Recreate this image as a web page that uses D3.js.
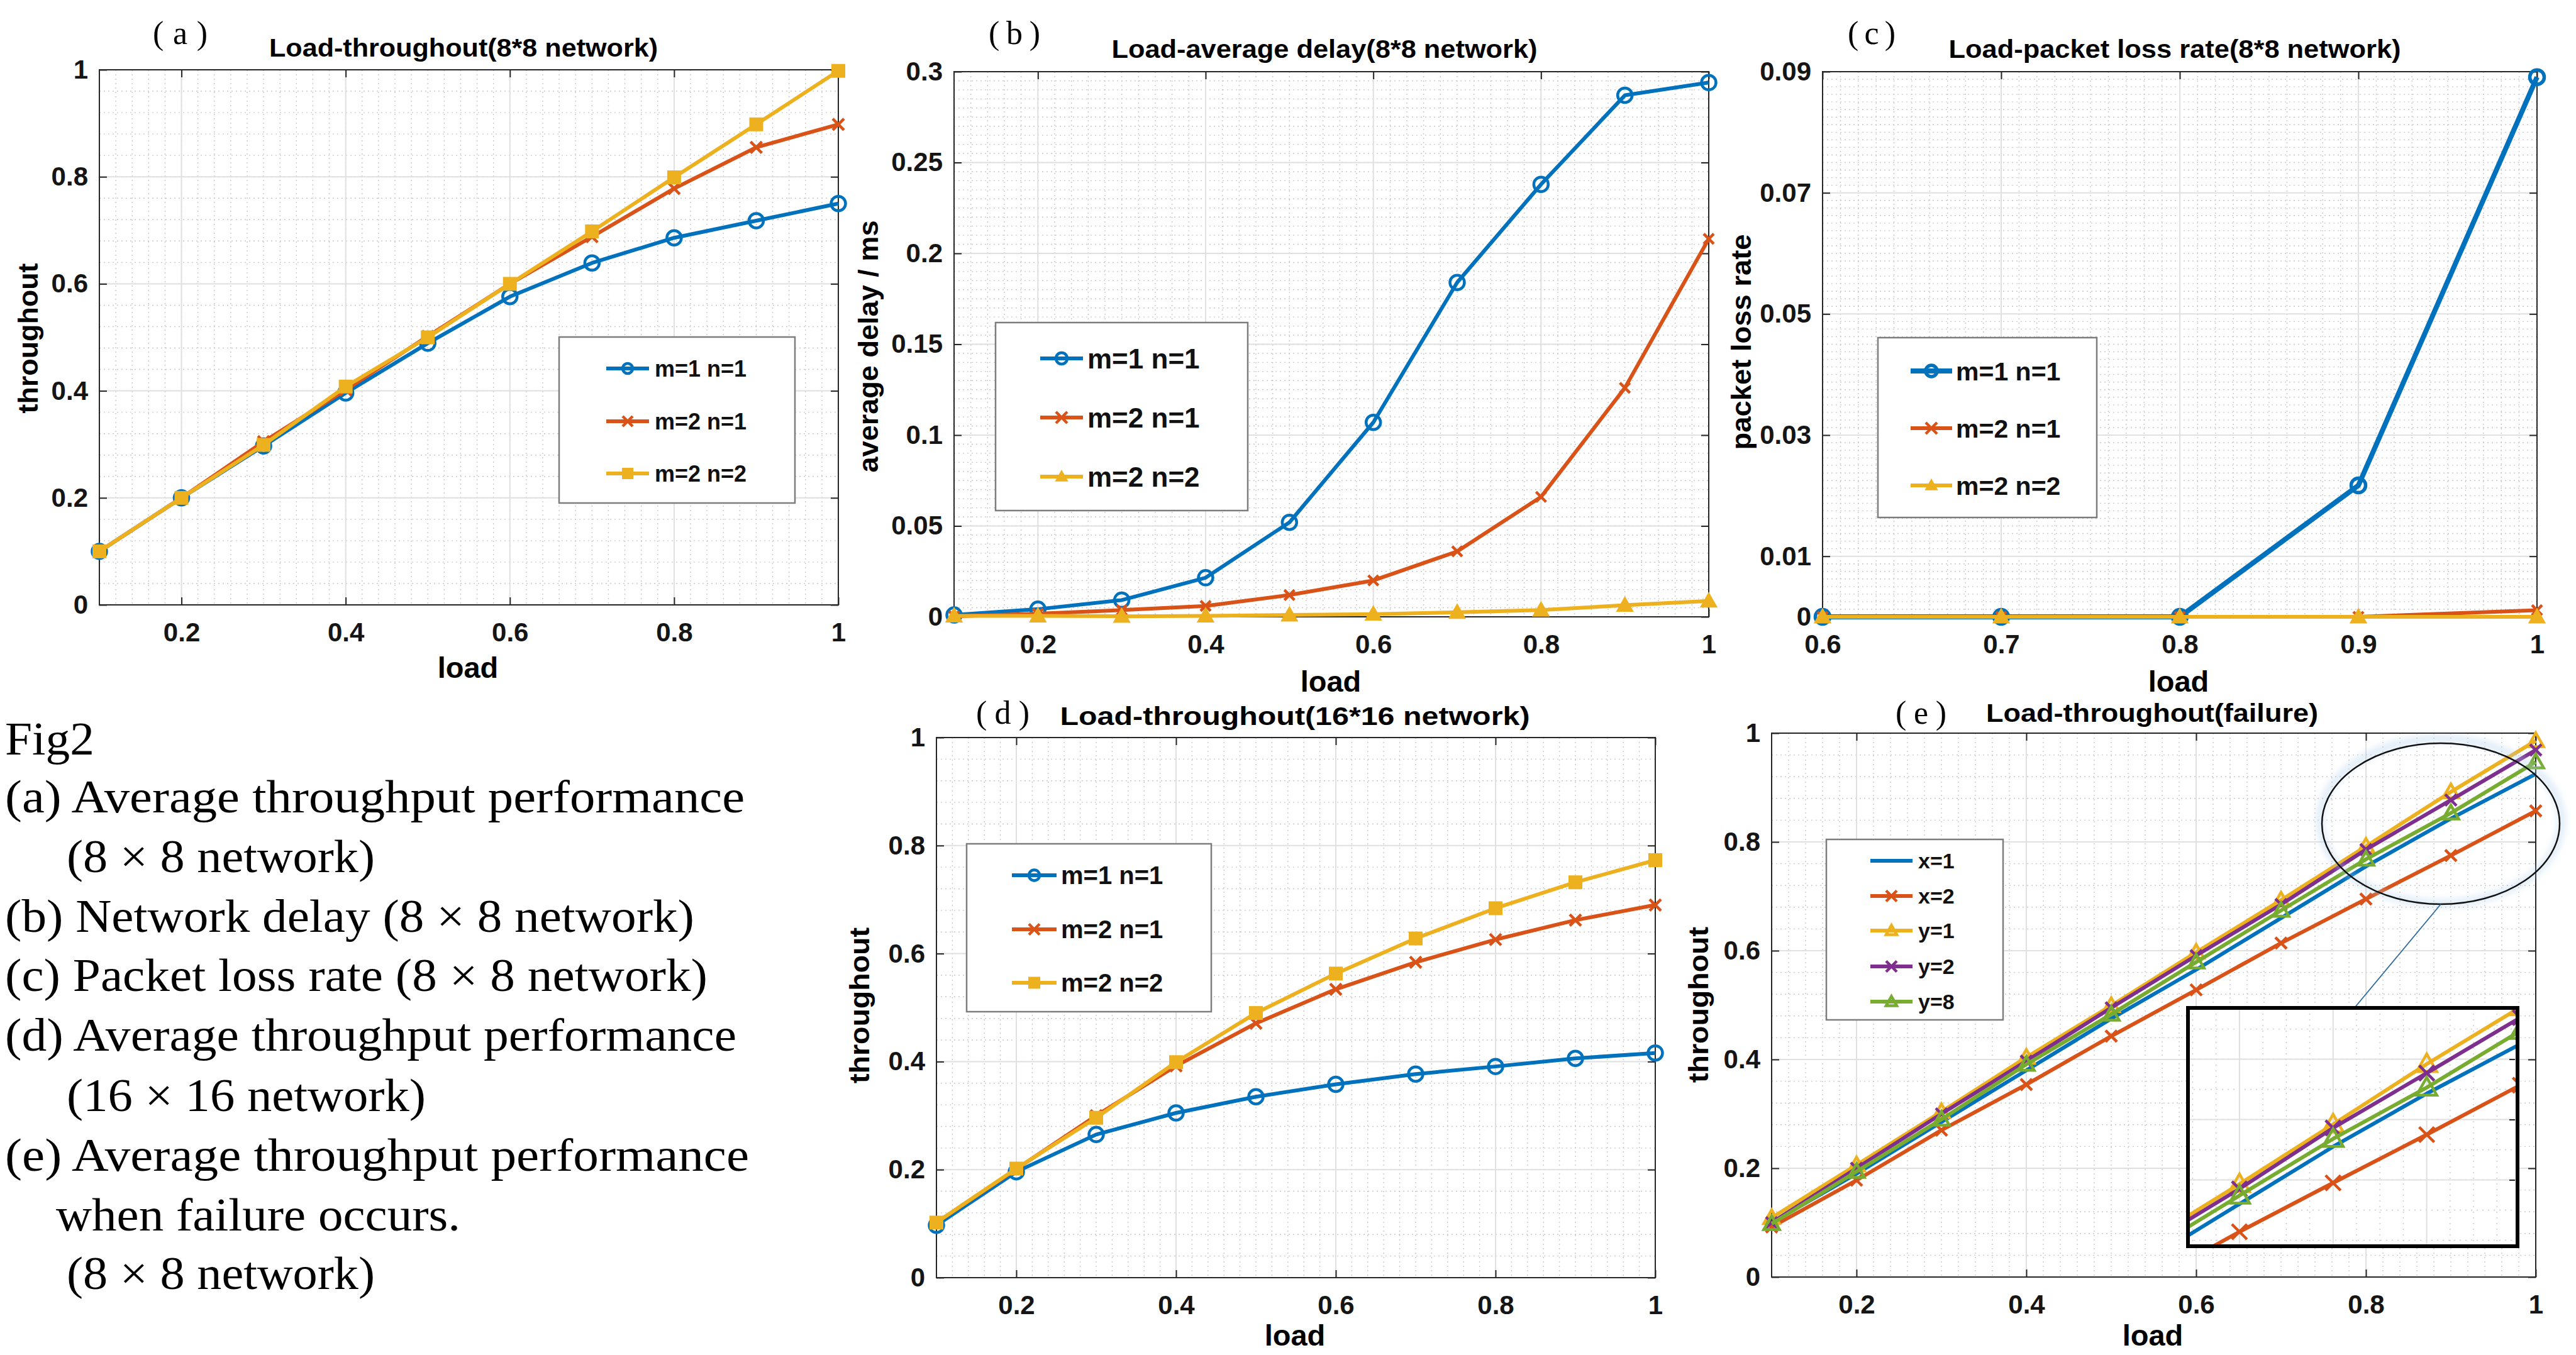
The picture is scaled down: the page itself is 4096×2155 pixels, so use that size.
<!DOCTYPE html>
<html>
<head>
<meta charset="utf-8">
<script src="https://cdn.jsdelivr.net/npm/d3@7"></script>
<style>
  html, body { margin: 0; padding: 0; background: #fff; }
  svg { display: block; }
</style>
</head>
<body>
<svg id="fig" width="4096" height="2155"></svg>
<script>
// ---- data ----
const load = [0.1, 0.2, 0.3, 0.4, 0.5, 0.6, 0.7, 0.8, 0.9, 1.0];
const lossLoad = [0.6, 0.7, 0.8, 0.9, 1.0];

const thr8_m1n1 = [0.100, 0.200, 0.297, 0.396, 0.489, 0.576, 0.639, 0.686, 0.718, 0.750];
const thr8_m2n1 = [0.100, 0.200, 0.305, 0.402, 0.502, 0.600, 0.688, 0.778, 0.855, 0.898];
const thr8_m2n2 = [0.100, 0.200, 0.299, 0.408, 0.500, 0.600, 0.698, 0.799, 0.898, 0.998];

const delay_m1n1 = [0.001, 0.0042, 0.0092, 0.0215, 0.052, 0.107, 0.184, 0.238, 0.287, 0.294];
const delay_m2n1 = [0.0003, 0.0017, 0.0037, 0.006, 0.012, 0.020, 0.036, 0.066, 0.126, 0.208];
const delay_m2n2 = [0.0005, 0.0005, 0.0003, 0.0005, 0.001, 0.0015, 0.0025, 0.0037, 0.0064, 0.0087];

const loss_m1n1 = [0, 0, 0, 0.0217, 0.0891];
const loss_m2n1 = [0, 0, 0, 0, 0.0011];
const loss_m2n2 = [0, 0, 0, 0, 0];

const thr16_m1n1 = [0.097, 0.196, 0.265, 0.305, 0.335, 0.358, 0.377, 0.391, 0.406, 0.416];
const thr16_m2n1 = [0.102, 0.201, 0.300, 0.392, 0.471, 0.534, 0.584, 0.626, 0.662, 0.690];
const thr16_m2n2 = [0.102, 0.202, 0.296, 0.399, 0.490, 0.563, 0.628, 0.684, 0.732, 0.773];

const fail_x1 = [0.100, 0.190, 0.285, 0.380, 0.475, 0.565, 0.660, 0.755, 0.843, 0.925];
const fail_x2 = [0.092, 0.178, 0.270, 0.354, 0.443, 0.528, 0.614, 0.695, 0.775, 0.857];
const fail_y1 = [0.109, 0.206, 0.304, 0.404, 0.499, 0.597, 0.693, 0.792, 0.892, 0.986];
const fail_y2 = [0.100, 0.200, 0.300, 0.397, 0.495, 0.591, 0.685, 0.786, 0.877, 0.969];
const fail_y8 = [0.098, 0.194, 0.290, 0.391, 0.483, 0.579, 0.674, 0.768, 0.853, 0.947];

const loadTicks = [0.2, 0.4, 0.6, 0.8, 1];
const thrTicks = [0, 0.2, 0.4, 0.6, 0.8, 1];
const delayTicks = [0, 0.05, 0.1, 0.15, 0.2, 0.25, 0.3];
const lossLoadTicks = [0.6, 0.7, 0.8, 0.9, 1];
const lossTicks = [0, 0.01, 0.03, 0.05, 0.07, 0.09];

const mnLabels = ["m=1 n=1", "m=2 n=1", "m=2 n=2"];
const failLabels = ["x=1", "x=2", "y=1", "y=2", "y=8"];

// zoomed view of panel (e)
const insetX = [0.645, 0.997];
const insetY = [0.59, 0.985];
const insetXTicks = [0.7, 0.8, 0.9];
const insetYTicks = [0.7, 0.8, 0.9];

const captionLines = [
  "Fig2",
  "(a) Average throughput  performance",
  "(8 × 8 network)",
  "(b) Network delay (8 × 8 network)",
  "(c) Packet loss rate (8 × 8 network)",
  "(d) Average throughput performance",
  "(16 × 16 network)",
  "(e) Average throughput  performance",
  "when failure occurs.",
  "(8 × 8 network)"
];

// ---- drawing ----
const BLUE = "#0072BD", RED = "#D95319", YEL = "#EDB120", PUR = "#7E2F8E", GRN = "#77AC30";
const FONT = "'Liberation Sans', Arial, Helvetica, sans-serif";
const SERIF = "'Liberation Serif', 'Times New Roman', serif";
const LW = 6;

const svg = d3.select("#fig");
svg.append("rect").attr("width", 4096).attr("height", 2155).attr("fill", "#fff");

const fmt = d => String(+d.toFixed(4));
const steps = (dom, st) => d3.range(Math.round((dom[1] - dom[0]) / st) + 1).map(i => dom[0] + i * st);

function marker(g, type, cx, cy, color, s, sw) {
  const h = s / 2;
  if (type === "o") {
    g.append("circle").attr("cx", cx).attr("cy", cy).attr("r", h)
      .attr("fill", "none").attr("stroke", color).attr("stroke-width", sw);
  } else if (type === "x") {
    g.append("path").attr("d", `M${cx - h},${cy - h}L${cx + h},${cy + h}M${cx - h},${cy + h}L${cx + h},${cy - h}`)
      .attr("fill", "none").attr("stroke", color).attr("stroke-width", sw);
  } else if (type === "s") {
    g.append("rect").attr("x", cx - h).attr("y", cy - h).attr("width", s).attr("height", s)
      .attr("fill", color).attr("stroke", color).attr("stroke-width", 2);
  } else if (type === "^" || type === "^f") {
    g.append("path").attr("d", `M${cx},${cy - h}L${cx + h},${cy + h * 0.75}L${cx - h},${cy + h * 0.75}Z`)
      .attr("fill", type === "^f" ? color : "none").attr("stroke", color)
      .attr("stroke-width", sw).attr("stroke-linejoin", "miter");
  }
}

function styleAxis(sel) {
  sel.select(".domain").remove();
  sel.selectAll(".tick line").attr("stroke", "#262626").attr("stroke-width", 2);
  sel.selectAll(".tick text").attr("font-family", FONT).attr("font-weight", "bold")
    .attr("font-size", 42).attr("fill", "#151515");
}

function drawPanel(p) {
  const g = svg.append("g");
  const x = d3.scaleLinear().domain(p.xDom).range([p.l, p.r]);
  const y = d3.scaleLinear().domain(p.yDom).range([p.b, p.t]);

  // minor grid
  g.append("g").selectAll("line").data(steps(p.xDom, p.xMinor)).join("line")
    .attr("x1", d => x(d)).attr("x2", d => x(d)).attr("y1", p.t).attr("y2", p.b)
    .attr("stroke", "#c9c9c9").attr("stroke-width", 1.4).attr("stroke-dasharray", "2,5");
  g.append("g").selectAll("line").data(steps(p.yDom, p.yMinor)).join("line")
    .attr("x1", p.l).attr("x2", p.r).attr("y1", d => y(d)).attr("y2", d => y(d))
    .attr("stroke", "#c9c9c9").attr("stroke-width", 1.4).attr("stroke-dasharray", "2,5");
  // major grid
  g.append("g").selectAll("line").data(p.xTicks).join("line")
    .attr("x1", d => x(d)).attr("x2", d => x(d)).attr("y1", p.t).attr("y2", p.b)
    .attr("stroke", "#e0e0e0").attr("stroke-width", 2);
  g.append("g").selectAll("line").data(p.yTicks).join("line")
    .attr("x1", p.l).attr("x2", p.r).attr("y1", d => y(d)).attr("y2", d => y(d))
    .attr("stroke", "#e0e0e0").attr("stroke-width", 2);

  // axes, ticks on all four sides pointing in
  g.append("g").attr("transform", `translate(0,${p.b})`)
    .call(d3.axisBottom(x).tickValues(p.xTicks).tickFormat(fmt).tickSizeInner(-12).tickSizeOuter(0).tickPadding(28))
    .call(styleAxis);
  g.append("g").attr("transform", `translate(${p.l},0)`)
    .call(d3.axisLeft(y).tickValues(p.yTicks).tickFormat(fmt).tickSizeInner(-12).tickSizeOuter(0).tickPadding(18))
    .call(styleAxis);
  g.append("g").attr("transform", `translate(0,${p.t})`)
    .call(d3.axisTop(x).tickValues(p.xTicks).tickFormat("").tickSizeInner(-12).tickSizeOuter(0))
    .call(styleAxis);
  g.append("g").attr("transform", `translate(${p.r},0)`)
    .call(d3.axisRight(y).tickValues(p.yTicks).tickFormat("").tickSizeInner(-12).tickSizeOuter(0))
    .call(styleAxis);
  g.append("rect").attr("x", p.l).attr("y", p.t).attr("width", p.r - p.l).attr("height", p.b - p.t)
    .attr("fill", "none").attr("stroke", "#262626").attr("stroke-width", 2);

  // series
  p.series.forEach(s => {
    const pts = p.xs.map((v, i) => [x(v), y(s.ys[i])]);
    g.append("path").attr("d", d3.line()(pts)).attr("fill", "none").attr("stroke", s.c)
      .attr("stroke-width", s.w || LW).attr("stroke-linejoin", "round");
    if (s.m) pts.forEach(pt => marker(g, s.m, pt[0], pt[1], s.c, s.ms || 23, s.mw || 4.5));
  });

  // texts
  g.append("text").attr("x", p.title.cx).attr("y", p.title.y).attr("text-anchor", "middle")
    .attr("font-family", FONT).attr("font-weight", "bold").attr("font-size", 40)
    .attr("textLength", p.title.len).attr("lengthAdjust", "spacingAndGlyphs").text(p.title.text);
  g.append("text").attr("x", p.tag.x).attr("y", p.tag.y).attr("font-family", SERIF)
    .attr("font-size", 52).attr("textLength", p.tag.len).attr("lengthAdjust", "spacing").text(p.tag.text);
  g.append("text").attr("x", p.xlab.cx).attr("y", p.xlab.y).attr("text-anchor", "middle")
    .attr("font-family", FONT).attr("font-weight", "bold").attr("font-size", 47).text("load");
  g.append("text").attr("transform", `translate(${p.ylab.cx},${p.ylab.cy}) rotate(-90)`)
    .attr("text-anchor", "middle").attr("dy", "0.36em")
    .attr("font-family", FONT).attr("font-weight", "bold").attr("font-size", 45)
    .attr("textLength", p.ylab.len).attr("lengthAdjust", "spacingAndGlyphs").text(p.ylab.text);

  if (p.extra) p.extra(g, x, y);

  // legend
  const lg = p.legend;
  g.append("rect").attr("x", lg.x0).attr("y", lg.y0).attr("width", lg.x1 - lg.x0).attr("height", lg.y1 - lg.y0)
    .attr("fill", "#fff").attr("stroke", "#7d7d7d").attr("stroke-width", 2.5);
  p.series.forEach((s, i) => {
    const cy = lg.rows[i];
    g.append("line").attr("x1", lg.lx0).attr("x2", lg.lx1).attr("y1", cy).attr("y2", cy)
      .attr("stroke", s.c).attr("stroke-width", s.w || LW);
    if (s.m) marker(g, s.m, (lg.lx0 + lg.lx1) / 2, cy, s.c, lg.ms || 18, s.mw || 4.5);
    g.append("text").attr("x", lg.tx).attr("y", cy).attr("dy", "0.36em")
      .attr("font-family", FONT).attr("font-weight", "bold").attr("font-size", lg.size)
      .attr("fill", "#111").text(p.labels[i]);
  });
}

// (a)
drawPanel({
  l: 158, r: 1333, t: 111, b: 962, xDom: [0.1, 1], yDom: [0, 1],
  xTicks: loadTicks, yTicks: thrTicks, xMinor: 0.02, yMinor: 0.04, xs: load,
  series: [
    { ys: thr8_m1n1, c: BLUE, m: "o" },
    { ys: thr8_m2n1, c: RED, m: "x", ms: 18 },
    { ys: thr8_m2n2, c: YEL, m: "s", ms: 20 }
  ],
  labels: mnLabels,
  title: { text: "Load-throughout(8*8 network)", cx: 737, y: 90, len: 618 },
  tag: { text: "(a)", x: 243, y: 70, len: 87 },
  xlab: { cx: 744, y: 1078 },
  ylab: { text: "throughout", cx: 44, cy: 538, len: 239 },
  legend: { x0: 889, x1: 1264, y0: 536, y1: 800, rows: [586, 670, 753], lx0: 964, lx1: 1032, tx: 1041, size: 36, ms: 16 }
});

// (b)
drawPanel({
  l: 1517, r: 2717, t: 114, b: 981, xDom: [0.1, 1], yDom: [0, 0.3],
  xTicks: loadTicks, yTicks: delayTicks, xMinor: 0.02, yMinor: 0.005, xs: load,
  series: [
    { ys: delay_m1n1, c: BLUE, m: "o" },
    { ys: delay_m2n1, c: RED, m: "x", ms: 16 },
    { ys: delay_m2n2, c: YEL, m: "^f", ms: 25, mw: 2 }
  ],
  labels: mnLabels,
  title: { text: "Load-average delay(8*8 network)", cx: 2106, y: 92, len: 677 },
  tag: { text: "(b)", x: 1572, y: 70, len: 82 },
  xlab: { cx: 2116, y: 1100 },
  ylab: { text: "average delay / ms", cx: 1380, cy: 551, len: 401 },
  legend: { x0: 1583, x1: 1984, y0: 513, y1: 812, rows: [570, 664, 758], lx0: 1654, lx1: 1722, tx: 1729, size: 44, ms: 18 }
});

// (c)
drawPanel({
  l: 2898, r: 4034, t: 114, b: 981, xDom: [0.6, 1], yDom: [0, 0.09],
  xTicks: lossLoadTicks, yTicks: lossTicks, xMinor: 0.01, yMinor: 0.00125, xs: lossLoad,
  series: [
    { ys: loss_m1n1, c: BLUE, m: "o", w: 8, mw: 5.5 },
    { ys: loss_m2n1, c: RED, m: "x", ms: 16 },
    { ys: loss_m2n2, c: YEL, m: "^f", ms: 25, mw: 2 }
  ],
  labels: mnLabels,
  title: { text: "Load-packet loss rate(8*8 network)", cx: 3458, y: 92, len: 719 },
  tag: { text: "(c)", x: 2938, y: 70, len: 76 },
  xlab: { cx: 3464, y: 1100 },
  ylab: { text: "packet loss rate", cx: 2768, cy: 544, len: 343 },
  legend: { x0: 2986, x1: 3334, y0: 537, y1: 823, rows: [590, 681, 772], lx0: 3038, lx1: 3104, tx: 3110, size: 41, ms: 18 }
});

// (d)
drawPanel({
  l: 1489, r: 2632, t: 1173, b: 2032, xDom: [0.1, 1], yDom: [0, 1],
  xTicks: loadTicks, yTicks: thrTicks, xMinor: 0.02, yMinor: 0.04, xs: load,
  series: [
    { ys: thr16_m1n1, c: BLUE, m: "o" },
    { ys: thr16_m2n1, c: RED, m: "x", ms: 18 },
    { ys: thr16_m2n2, c: YEL, m: "s", ms: 20 }
  ],
  labels: mnLabels,
  title: { text: "Load-throughout(16*16 network)", cx: 2059, y: 1153, len: 747 },
  tag: { text: "(d)", x: 1552, y: 1151, len: 85 },
  xlab: { cx: 2059, y: 2140 },
  ylab: { text: "throughout", cx: 1366, cy: 1599, len: 248 },
  legend: { x0: 1537, x1: 1926, y0: 1342, y1: 1609, rows: [1392, 1478, 1563], lx0: 1609, lx1: 1680, tx: 1687, size: 40, ms: 17 }
});

// (e) with the zoomed inset
const failSeries = [
  { ys: fail_x1, c: BLUE, m: null },
  { ys: fail_x2, c: RED, m: "x", ms: 18 },
  { ys: fail_y1, c: YEL, m: "^", ms: 25 },
  { ys: fail_y2, c: PUR, m: "x", ms: 18 },
  { ys: fail_y8, c: GRN, m: "^", ms: 25 }
];

function insetExtra(g) {
  const defs = svg.append("defs");
  defs.append("filter").attr("id", "glow").attr("x", "-20%").attr("y", "-20%").attr("width", "140%").attr("height", "140%")
    .append("feGaussianBlur").attr("stdDeviation", 6);
  defs.append("clipPath").attr("id", "insetClip").append("rect")
    .attr("x", 3479).attr("y", 1603).attr("width", 524).attr("height", 379);

  // magnifier ellipse and leader line
  g.append("ellipse").attr("cx", 3881).attr("cy", 1306).attr("rx", 192).attr("ry", 131)
    .attr("fill", "none").attr("stroke", "#a9cbea").attr("stroke-width", 10).attr("opacity", 0.45).attr("filter", "url(#glow)");
  g.append("ellipse").attr("cx", 3881).attr("cy", 1310).attr("rx", 189).attr("ry", 128)
    .attr("fill", "none").attr("stroke", "#111").attr("stroke-width", 2.5);
  g.append("line").attr("x1", 3881).attr("y1", 1438).attr("x2", 3742).attr("y2", 1605)
    .attr("stroke", "#2f6a9e").attr("stroke-width", 1.8);

  const ix0 = 3479, ix1 = 4003, iy0 = 1603, iy1 = 1982;
  const xi = d3.scaleLinear().domain(insetX).range([ix0, ix1]);
  const yi = d3.scaleLinear().domain(insetY).range([iy1, iy0]);
  const ig = g.append("g");
  ig.append("rect").attr("x", ix0).attr("y", iy0).attr("width", ix1 - ix0).attr("height", iy1 - iy0).attr("fill", "#fff");
  const c = ig.append("g").attr("clip-path", "url(#insetClip)");
  c.append("g").selectAll("line").data(steps([0.65, 0.975], 0.025)).join("line")
    .attr("x1", d => xi(d)).attr("x2", d => xi(d)).attr("y1", iy0).attr("y2", iy1)
    .attr("stroke", "#c9c9c9").attr("stroke-width", 1.4).attr("stroke-dasharray", "2,7");
  c.append("g").selectAll("line").data(steps([0.6, 0.95], 0.05)).join("line")
    .attr("x1", ix0).attr("x2", ix1).attr("y1", d => yi(d)).attr("y2", d => yi(d))
    .attr("stroke", "#c9c9c9").attr("stroke-width", 1.4).attr("stroke-dasharray", "2,7");
  c.append("g").selectAll("line").data(insetXTicks).join("line")
    .attr("x1", d => xi(d)).attr("x2", d => xi(d)).attr("y1", iy0).attr("y2", iy1)
    .attr("stroke", "#e0e0e0").attr("stroke-width", 2);
  c.append("g").selectAll("line").data(insetYTicks).join("line")
    .attr("x1", ix0).attr("x2", ix1).attr("y1", d => yi(d)).attr("y2", d => yi(d))
    .attr("stroke", "#e0e0e0").attr("stroke-width", 2);
  c.append("g").attr("transform", `translate(${ix1 - 4},0)`)
    .call(d3.axisRight(yi).tickValues(insetYTicks).tickFormat("").tickSizeInner(-9).tickSizeOuter(0))
    .call(styleAxis);
  failSeries.forEach(s => {
    const pts = load.map((v, i) => [xi(v), yi(s.ys[i])]);
    c.append("path").attr("d", d3.line()(pts)).attr("fill", "none").attr("stroke", s.c)
      .attr("stroke-width", 6).attr("stroke-linejoin", "round");
    if (s.m) pts.forEach(pt => marker(c, s.m, pt[0], pt[1], s.c, s.m === "^" ? 32 : 24, 4.5));
  });
  ig.append("rect").attr("x", ix0).attr("y", iy0).attr("width", ix1 - ix0).attr("height", iy1 - iy0)
    .attr("fill", "none").attr("stroke", "#000").attr("stroke-width", 6);
}

drawPanel({
  l: 2817, r: 4032, t: 1166, b: 2031, xDom: [0.1, 1], yDom: [0, 1],
  xTicks: loadTicks, yTicks: thrTicks, xMinor: 0.02, yMinor: 0.04, xs: load,
  series: failSeries,
  labels: failLabels,
  title: { text: "Load-throughout(failure)", cx: 3422, y: 1148, len: 528 },
  tag: { text: "(e)", x: 3014, y: 1151, len: 81 },
  xlab: { cx: 3423, y: 2140 },
  ylab: { text: "throughout", cx: 2700, cy: 1598, len: 248 },
  extra: insetExtra,
  legend: { x0: 2904, x1: 3185, y0: 1335, y1: 1622, rows: [1369, 1425, 1480, 1537, 1593], lx0: 2974, lx1: 3041, tx: 3050, size: 34, ms: 17 }
});

// caption block on the left
const capX = [8, 8, 106, 8, 8, 8, 106, 8, 89, 106];
const capY = [1200, 1292, 1387, 1482, 1576, 1671, 1767, 1862, 1957, 2050];
const capLen = [142, 1176, 490, 1096, 1117, 1163, 571, 1183, 643, 490];
svg.append("g").selectAll("text").data(captionLines).join("text")
  .attr("x", (d, i) => capX[i]).attr("y", (d, i) => capY[i])
  .attr("font-family", SERIF).attr("font-size", 73).attr("fill", "#000")
  .attr("textLength", (d, i) => capLen[i]).attr("lengthAdjust", "spacingAndGlyphs")
  .text(d => d);
</script>
</body>
</html>
